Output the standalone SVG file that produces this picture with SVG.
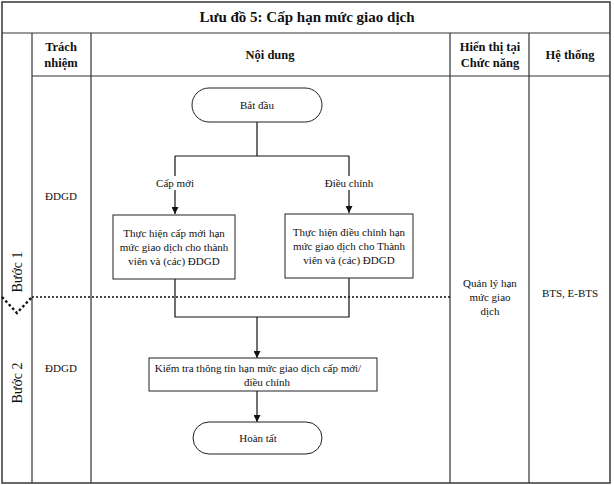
<svg xmlns="http://www.w3.org/2000/svg" width="614" height="485" viewBox="0 0 614 485">
<defs>
<marker id="arr" viewBox="0 0 10 10" refX="10" refY="5" markerWidth="7" markerHeight="7" orient="auto" markerUnits="userSpaceOnUse">
<path d="M0,0 L10,5 L0,10 z" fill="#111"/>
</marker>
<style>
.grid{stroke:#333;stroke-width:1.2;fill:none}
.frame{stroke:#444;stroke-width:1.6;fill:none}
.box{fill:#fff;stroke:#222;stroke-width:1}
.ln{stroke:#111;stroke-width:1.2;fill:none}
.dot{stroke:#111;stroke-width:1.6;stroke-dasharray:2,2;fill:none}
.dotb{stroke:#111;stroke-width:2.4;stroke-dasharray:2.5,2.5;fill:none}
text{font-family:"Liberation Serif","Times New Roman",serif;fill:#111}
.t{font-size:11px;text-anchor:middle}
.h{font-size:12.5px;font-weight:bold;text-anchor:middle}
.title{font-size:15px;font-weight:bold;text-anchor:middle}
.step{font-size:14px;text-anchor:middle}
</style>
</defs>
<rect width="614" height="485" fill="#fff"/>
<g id="table">
<rect class="frame" x="2" y="2" width="608" height="481"/>
<line class="grid" x1="2" y1="33" x2="610" y2="33"/>
<line class="grid" x1="32" y1="76" x2="610" y2="76"/>
<line class="grid" x1="32" y1="33" x2="32" y2="483"/>
<line class="grid" x1="91" y1="33" x2="91" y2="483"/>
<line class="grid" x1="450" y1="33" x2="450" y2="483"/>
<line class="grid" x1="529" y1="33" x2="529" y2="483"/>
<text class="title" x="307" y="22">Lưu đồ 5: Cấp hạn mức giao dịch</text>
<text class="h" x="61" y="51">Trách</text>
<text class="h" x="61" y="67">nhiệm</text>
<text class="h" x="270" y="59">Nội dung</text>
<text class="h" x="490" y="51">Hiển thị tại</text>
<text class="h" x="490" y="67">Chức năng</text>
<text class="h" x="570" y="59">Hệ thống</text>
<text class="step" transform="translate(22,272) rotate(-90)">Bước 1</text>
<text class="step" transform="translate(22,383) rotate(-90)">Bước 2</text>
<text class="t" x="61" y="200">ĐDGD</text>
<text class="t" x="61" y="372">ĐDGD</text>
<text class="t" x="490" y="287">Quản lý hạn</text>
<text class="t" x="490" y="301">mức giao</text>
<text class="t" x="490" y="315">dịch</text>
<text class="t" x="570" y="297">BTS, E-BTS</text>
<path class="dotb" d="M2,297 L17,313 L32,297"/>
<path class="dot" d="M32,297 L450,297"/>
</g>
<g id="connectors">
<path class="ln" d="M257,122 V156 M175,156 H349"/>
<path class="ln" d="M175,156 V176"/>
<path class="ln" d="M349,156 V176"/>
<path class="ln" d="M175,190 V214" marker-end="url(#arr)"/>
<path class="ln" d="M349,190 V213" marker-end="url(#arr)"/>
<path class="ln" d="M175,279 V317 H349 V278"/>
<path class="ln" d="M257,317 V358" marker-end="url(#arr)"/>
<path class="ln" d="M257,391 V422" marker-end="url(#arr)"/>
<text class="t" x="175" y="187">Cấp mới</text>
<text class="t" x="349" y="187">Điều chỉnh</text>
</g>
<g id="start">
<rect class="box" x="192" y="88" width="130" height="34" rx="17"/>
<text class="t" x="257" y="109">Bắt đầu</text>
</g>
<g id="capmoi">
<rect class="box" x="113" y="215" width="122" height="64"/>
<text class="t" x="174" y="237">Thực hiện cấp mới hạn</text>
<text class="t" x="174" y="251">mức giao dịch cho thành</text>
<text class="t" x="174" y="265">viên và (các) ĐDGD</text>
</g>
<g id="dieuchinh">
<rect class="box" x="285" y="214" width="128" height="64"/>
<text class="t" x="349" y="236">Thực hiện điều chỉnh hạn</text>
<text class="t" x="349" y="250">mức giao dịch cho Thành</text>
<text class="t" x="349" y="264">viên và (các) ĐDGD</text>
</g>
<g id="kiemtra">
<rect class="box" x="149" y="358" width="228" height="33"/>
<text class="t" x="258" y="372">Kiểm tra thông tin hạn mức giao dịch cấp mới/</text>
<text class="t" x="267" y="386">điều chỉnh</text>
</g>
<g id="end">
<rect class="box" x="193" y="422" width="129" height="32" rx="16"/>
<text class="t" x="258" y="442">Hoàn tất</text>
</g>
</svg>
